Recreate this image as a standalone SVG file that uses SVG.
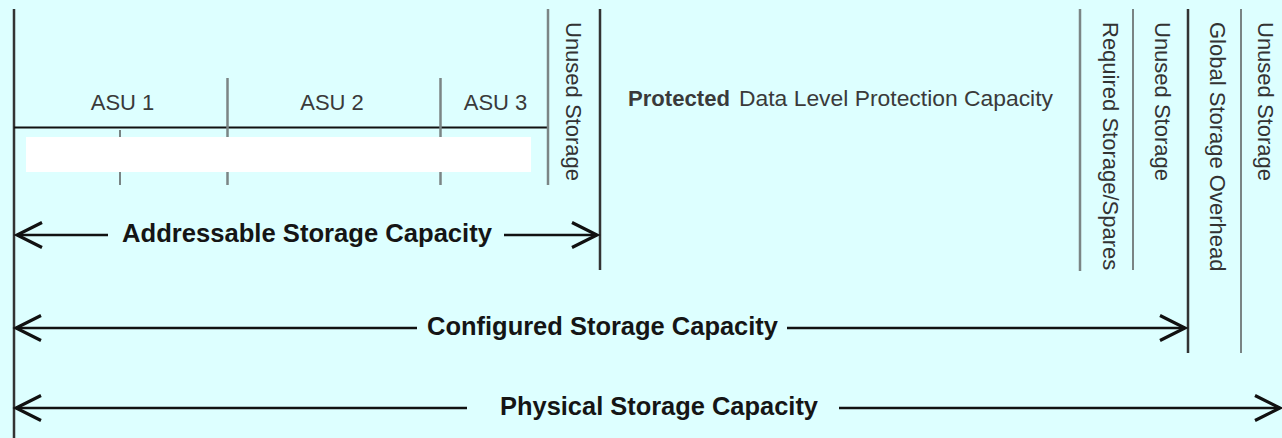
<svg xmlns="http://www.w3.org/2000/svg" width="1282" height="438" viewBox="0 0 1282 438">
<style>
.dark{stroke:#333;stroke-width:2.5;fill:none}
.gray{stroke:#7b8585;stroke-width:2.5;fill:none}
.thin{stroke:#6e7777;stroke-width:1.8;fill:none}
.conn{stroke:#111;stroke-width:2.5;fill:none}
.lbl{font-family:"Liberation Sans",Arial,sans-serif;font-size:22px;fill:#3a3a3a}
.vlbl{font-family:"Liberation Sans",Arial,sans-serif;font-size:22px;fill:#333}
.big{font-family:"Liberation Sans",Arial,sans-serif;font-size:25px;font-weight:bold;fill:#151515}
</style>
<defs>
<marker id="chev" markerUnits="userSpaceOnUse" markerWidth="30" markerHeight="30" refX="0" refY="0" viewBox="-22 -12 24 24" orient="auto-start-reverse" overflow="visible">
<path d="M -20 -10 L 0 0 L -20 10" fill="none" stroke="#111" stroke-width="2.5"/>
</marker>
</defs>
<rect width="1282" height="438" fill="#ddffff"/>
<g id="frame">
<line class="dark" x1="14" y1="9" x2="14" y2="438"/>
<line class="dark" x1="600" y1="9" x2="600" y2="270"/>
<line class="gray" x1="1080" y1="9" x2="1080" y2="271"/>
<line class="thin" x1="1133" y1="9" x2="1133" y2="270"/>
<line class="dark" x1="1188" y1="9" x2="1188" y2="353"/>
<line class="thin" x1="1241" y1="9" x2="1241" y2="353"/>
</g>
<g id="asu-block">
<line x1="14" y1="127.5" x2="548" y2="127.5" stroke="#111" stroke-width="2.2"/>
<line class="gray" x1="227.5" y1="78" x2="227.5" y2="185"/>
<line class="gray" x1="440.5" y1="78" x2="440.5" y2="185"/>
<line class="thin" x1="120" y1="130" x2="120" y2="185"/>
<line class="gray" x1="548" y1="9" x2="548" y2="185"/>
<rect x="26" y="137" width="505" height="35" fill="#ffffff"/>
</g>
<g id="asu1"><text class="lbl" x="122.5" y="110" text-anchor="middle">ASU 1</text></g>
<g id="asu2"><text class="lbl" x="332" y="110" text-anchor="middle">ASU 2</text></g>
<g id="asu3"><text class="lbl" x="495.5" y="110" text-anchor="middle">ASU 3</text></g>
<g id="unused1"><text class="vlbl" transform="translate(566,22) rotate(90)">Unused Storage</text></g>
<g id="protected">
<text class="lbl" x="628" y="106" font-weight="bold" fill="#1a1a1a" textLength="102" lengthAdjust="spacingAndGlyphs">Protected</text>
<text class="lbl" x="739" y="106" textLength="314" lengthAdjust="spacingAndGlyphs">Data Level Protection Capacity</text>
</g>
<g id="required"><text class="vlbl" transform="translate(1103,22) rotate(90)">Required Storage/Spares</text></g>
<g id="unused2"><text class="vlbl" transform="translate(1155,22) rotate(90)">Unused Storage</text></g>
<g id="global"><text class="vlbl" transform="translate(1210,22) rotate(90)">Global Storage Overhead</text></g>
<g id="unused3"><text class="vlbl" transform="translate(1258,22) rotate(90)">Unused Storage</text></g>
<g id="labels">
<text class="big" x="122" y="242" textLength="370" lengthAdjust="spacingAndGlyphs">Addressable Storage Capacity</text>
<text class="big" x="427" y="335" textLength="351" lengthAdjust="spacingAndGlyphs">Configured Storage Capacity</text>
<text class="big" x="500" y="415" textLength="318" lengthAdjust="spacingAndGlyphs">Physical Storage Capacity</text>
</g>
<g id="connectors">
<line class="conn" x1="17" y1="235" x2="108" y2="235" marker-start="url(#chev)"/>
<line class="conn" x1="504" y1="235" x2="597" y2="235" marker-end="url(#chev)"/>
<line class="conn" x1="16" y1="328" x2="417" y2="328" marker-start="url(#chev)"/>
<line class="conn" x1="787" y1="328" x2="1185" y2="328" marker-end="url(#chev)"/>
<line class="conn" x1="16" y1="408" x2="467" y2="408" marker-start="url(#chev)"/>
<line class="conn" x1="839" y1="408" x2="1280" y2="408" marker-end="url(#chev)"/>
</g>
</svg>
